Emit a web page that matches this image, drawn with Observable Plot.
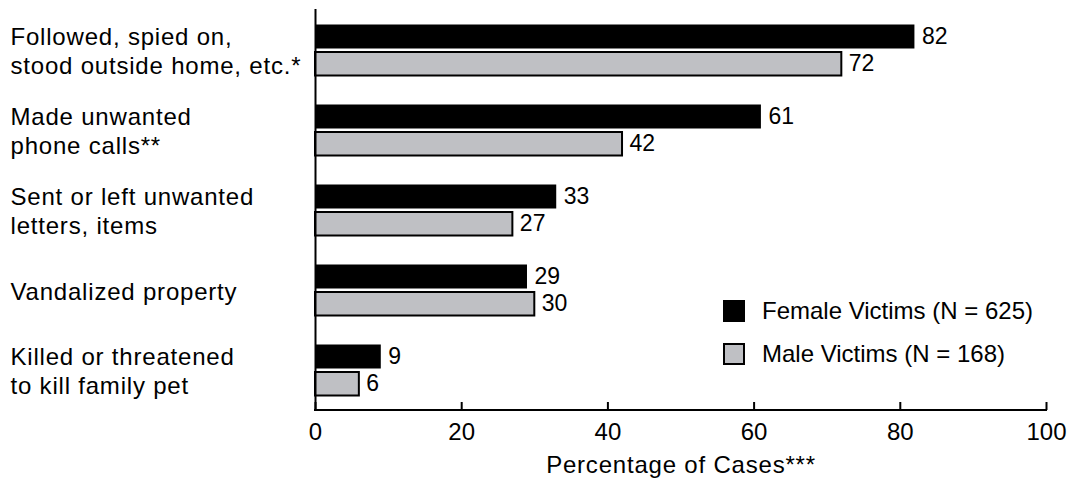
<!DOCTYPE html>
<html>
<head>
<meta charset="utf-8">
<script src="https://cdn.jsdelivr.net/npm/d3@7"></script>
<script src="https://cdn.jsdelivr.net/npm/@observablehq/plot@0.6"></script>
<style>
  html, body { margin: 0; padding: 0; background: #fff; }
  #wrap { position: relative; width: 1067px; height: 481px; font-family: "Liberation Sans", Arial, sans-serif; }
  #legend { position: absolute; left: 723px; top: 300px; font-size: 24px; color: #000; }
  .item { display: flex; align-items: center; height: 22px; margin-bottom: 20.5px; }
  .sw { width: 22px; height: 22px; box-sizing: border-box; margin-right: 17px; }
</style>
</head>
<body>
<div id="wrap">
  <div id="chart"></div>
  <div id="legend"></div>
</div>
<script>
const categories = [
  "Followed, spied on,\nstood outside home, etc.*",
  "Made unwanted\nphone calls**",
  "Sent or left unwanted\nletters, items",
  "Vandalized property",
  "Killed or threatened\nto kill family pet"
];
const femaleValues = [82, 61, 33, 29, 9];
const maleValues = [72, 42, 27, 30, 6];
const seriesNames = ["Female Victims (N = 625)", "Male Victims (N = 168)"];
const seriesColors = ["#000000", "#bfc0c4"];
const xTicks = [0, 20, 40, 60, 80, 100];
const xLabel = "Percentage of Cases***";

const female = categories.map((c, i) => ({cat: c, value: femaleValues[i]}));
const male = categories.map((c, i) => ({cat: c, value: maleValues[i]}));

const font = "Liberation Sans, Arial, sans-serif";

const baseLine = (index, scales, values, dims) => {
  const g = d3.create("svg:g");
  g.append("line")
    .attr("x1", dims.marginLeft - 1).attr("x2", dims.width - dims.marginRight + 1)
    .attr("y1", dims.height - dims.marginBottom).attr("y2", dims.height - dims.marginBottom)
    .attr("stroke", "#000").attr("stroke-width", 2);
  return g.node();
};

const chart = Plot.plot({
  width: 1067,
  height: 481,
  marginLeft: 315,
  marginRight: 21,
  marginTop: 9,
  marginBottom: 71,
  style: {fontFamily: font, fontSize: "23px", color: "#000", background: "#fff"},
  x: {domain: [0, 100], ticks: xTicks},
  y: {domain: categories, padding: 0, axis: null},
  marks: [
    Plot.barX(female, {x: "value", y: "cat", fill: seriesColors[0], insetTop: 14.5, insetBottom: 41.5}),
    Plot.barX(male, {x: "value", y: "cat", fill: seriesColors[1], stroke: "#000", strokeWidth: 2, insetTop: 42, insetBottom: 14.5}),
    Plot.text(female, {x: "value", y: "cat", text: d => String(d.value), dx: 7, dy: -13.5, textAnchor: "start", fontSize: 23}),
    Plot.text(male, {x: "value", y: "cat", text: d => String(d.value), dx: 7, dy: 13.5, textAnchor: "start", fontSize: 23}),
    Plot.text(categories, {y: d => d, text: d => d, frameAnchor: "left", dx: -305, textAnchor: "start", lineAnchor: "middle", lineHeight: 1.17, fontSize: 24}),
    Plot.ruleX([0], {stroke: "#000", strokeWidth: 2}),
    baseLine,
    Plot.axisX({ticks: xTicks, tickSize: -8, tickPadding: 20, strokeWidth: 2, fontSize: 24, label: xLabel, labelAnchor: "center", labelOffset: 62, labelArrow: "none"})
  ]
});
document.getElementById("chart").appendChild(chart);

// slightly wider spacing for the word labels, as in the reference
d3.select(chart).selectAll("text")
  .filter(function() { return /[A-Za-z]/.test(this.textContent); })
  .style("letter-spacing", "0.8px");

const legend = document.getElementById("legend");
seriesNames.forEach((name, i) => {
  const item = document.createElement("div");
  item.className = "item";
  const sw = document.createElement("div");
  sw.className = "sw";
  sw.style.background = seriesColors[i];
  sw.style.border = "2px solid #000";
  const t = document.createElement("span");
  t.textContent = name;
  item.appendChild(sw);
  item.appendChild(t);
  legend.appendChild(item);
});
</script>
</body>
</html>
